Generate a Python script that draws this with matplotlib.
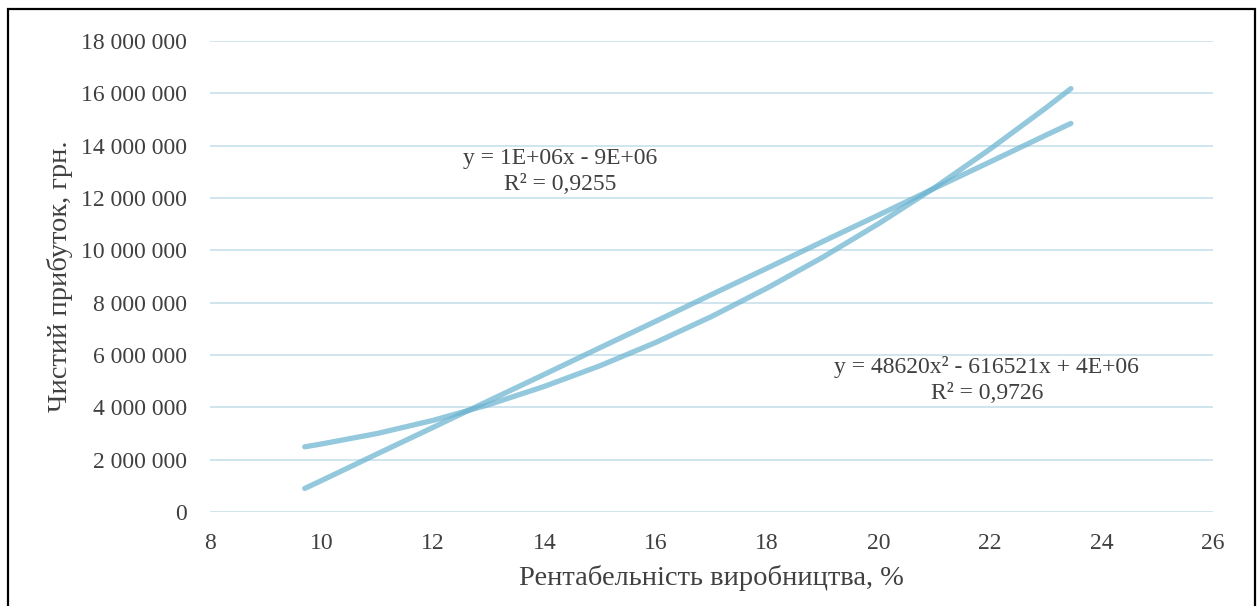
import matplotlib
matplotlib.use('Agg')
import matplotlib.pyplot as plt
from matplotlib.ticker import FuncFormatter
from matplotlib.patches import Rectangle

# точки трендових ліній
x_pts = [9.7, 10, 11, 12, 13, 14, 15, 16, 17, 18, 19, 20, 21, 22, 23, 23.45]
y_lin = [0.90e6, 1.20e6, 2.22e6, 3.23e6, 4.25e6, 5.26e6, 6.28e6, 7.29e6,
         8.31e6, 9.32e6, 10.34e6, 11.35e6, 12.37e6, 13.38e6, 14.40e6, 14.85e6]
y_poly = [2.49e6, 2.60e6, 3.00e6, 3.50e6, 4.10e6, 4.80e6, 5.59e6, 6.48e6,
          7.47e6, 8.56e6, 9.74e6, 11.02e6, 12.39e6, 13.87e6, 15.44e6, 16.18e6]

eq_lin = 'y = 1E+06x - 9E+06\nR² = 0,9255'
eq_poly = 'y = 48620x² - 616521x + 4E+06\nR² = 0,9726'

plt.rcParams['font.family'] = ['Liberation Serif', 'DejaVu Serif']

fig = plt.figure(figsize=(12.59, 6.06), dpi=100)
ax = fig.add_axes([210/1259, 1-512/606, (1213-210)/1259, (512-41)/606])

line_col = '#6BB3D0'
ax.plot(x_pts, y_lin, color=line_col, lw=3.8, alpha=0.72, solid_capstyle='round')
ax.plot(x_pts, y_poly, color=line_col, lw=3.8, alpha=0.72, solid_capstyle='round')

ax.set_xlim(8, 26)
ax.set_ylim(0, 18e6)
ax.set_xticks(range(8, 27, 2))
ax.set_yticks([i*2e6 for i in range(10)])
ax.yaxis.set_major_formatter(FuncFormatter(lambda v, p: f'{int(v):,}'.replace(',', ' ')))
ax.grid(axis='y', color='#D0E5EE', lw=1.4)
ax.set_axisbelow(True)
for s in ax.spines.values():
    s.set_visible(False)
ax.tick_params(length=0, labelsize=17, colors='#404040')
ax.tick_params(axis='y', pad=16.5)
ax.tick_params(axis='x', pad=15)

ax.set_xlabel('Рентабельність виробництва, %', fontsize=20.5, color='#404040', labelpad=8)
ax.set_ylabel('Чистий прибуток, грн.', fontsize=20.5, color='#404040', labelpad=6)

ax.text(14.28, 13.0e6, eq_lin, ha='center', va='center', fontsize=17,
        color='#404040', linespacing=1.32, multialignment='center')
ax.text(21.94, 5.03e6, eq_poly, ha='center', va='center', fontsize=17,
        color='#404040', linespacing=1.32, multialignment='center')

fig.patches.append(Rectangle((8/1259, -0.01), (1255-8)/1259, 1-9/606+0.01,
                             transform=fig.transFigure, fill=False,
                             edgecolor='black', lw=1.6))

fig.savefig('out.png', dpi=100)
